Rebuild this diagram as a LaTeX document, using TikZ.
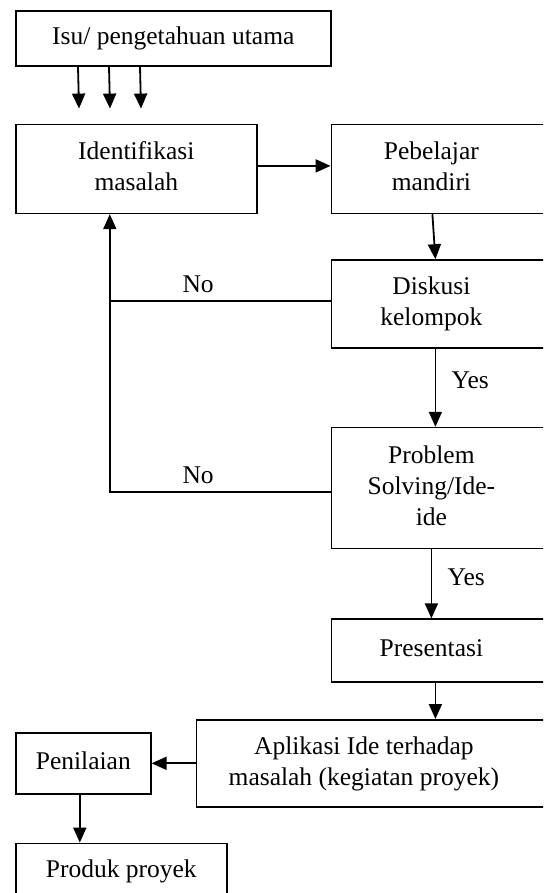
\documentclass[tikz,border=0pt]{standalone}
\usepackage{fontspec}
\setmainfont{Liberation Serif}
\usetikzlibrary{positioning, arrows.meta}
\tikzstyle{box} = [rectangle, draw=black, line width=1.6pt, inner sep=0pt, text centered]
\tikzstyle{rbox} = [box, minimum width=240pt]
\tikzstyle{arrow} = [line width=1.8pt, -{Triangle[length=15pt, width=13pt]}]
\tikzstyle{link} = [line width=1.8pt]
\tikzstyle{lbl} = [above=4pt, pos=0.6]
\tikzstyle{yes} = [right=12pt, pos=0.4]
\newcommand{\boxtext}[2][0pt]{\begin{tabular}{@{}c@{}}#2\end{tabular}\hspace*{#1}}

\begin{document}
\begin{tikzpicture}[x=1pt, y=-1pt, font=\fontsize{25.5pt}{31pt}\selectfont]
        \useasboundingbox (0,0) rectangle (543,893);
        \clip (0,0) rectangle (543,893);
        \node (isu) [box, minimum width=315pt, minimum height=55pt, anchor=north west] at (15,10) {\boxtext{Isu/ pengetahuan utama}};
        \node (iden) [box, minimum width=241pt, minimum height=89pt, below=57pt of isu.south west, anchor=north west] {\boxtext{Identifikasi\\masalah}};
        \node (pebel) [rbox, minimum height=89pt, right=73pt of iden] {\boxtext[40pt]{Pebelajar\\mandiri}};
        \node (disk) [rbox, minimum height=88pt, below=45pt of pebel.south west, anchor=north west] {\boxtext[40pt]{Diskusi\\kelompok}};
        \node (prob) [rbox, minimum height=121pt, below=78pt of disk.south west, anchor=north west] {\boxtext[40pt]{Problem\\Solving/Ide-\\ide}};
        \node (pres) [rbox, minimum height=63pt, below=69pt of prob.south west, anchor=north west] {\boxtext[40pt]{Presentasi}};
        \node (apl) [box, minimum width=375pt, minimum height=87pt, below=36pt of pres.south west, anchor=north west, xshift=-135pt] {\boxtext[40pt]{Aplikasi Ide terhadap\\masalah (kegiatan proyek)}};
        \node (pen) [box, minimum width=135pt, minimum height=61pt, left=44pt of apl] {\boxtext{Penilaian}};
        \node (prod) [box, minimum width=211pt, minimum height=87pt, below=48pt of pen.south west, anchor=north west] {\boxtext{Produk proyek\\ ~}};

        % Arrows from the issue box
        \foreach \n/\dx in {1/63,2/94,3/125} {
            \coordinate (tip\n) at ([xshift=\dx pt+1pt, yshift=-42pt]isu.south west);
            \draw [arrow] ([xshift=\dx pt]isu.south west) -- (tip\n);
        }

        % Main path
        \draw [arrow] ([yshift=3pt]iden.east) -- ([yshift=3pt]pebel.west);
        \draw [arrow] ([xshift=-19pt]pebel.south) -- ([xshift=-16pt]disk.north);
        \draw [arrow] ([xshift=-16pt]disk.south) -- node[yes] {Yes} ([xshift=-16pt]prob.north);
        \draw [arrow] ([xshift=-20pt]prob.south) -- node[yes] {Yes} ([xshift=-20pt]pres.north);
        \draw [arrow] ([xshift=-16pt]pres.south) -- ([xshift=51.5pt]apl.north);
        \draw [arrow] (apl.west) -- (pen.east);
        \draw [arrow] ([xshift=-3.5pt]pen.south) -- ([xshift=-41.5pt]prod.north);

        % No loops back
        \coordinate (up) at ([xshift=-26.5pt]iden.south);
        \draw [link] ([yshift=3pt]disk.west) -- node[lbl] {No} ([yshift=3pt]disk.west -| up);
        \draw [arrow] ([yshift=-4pt]prob.west) -- node[lbl] {No} ([yshift=-4pt]prob.west -| up) -- (up);
    \end{tikzpicture}
\end{document}
